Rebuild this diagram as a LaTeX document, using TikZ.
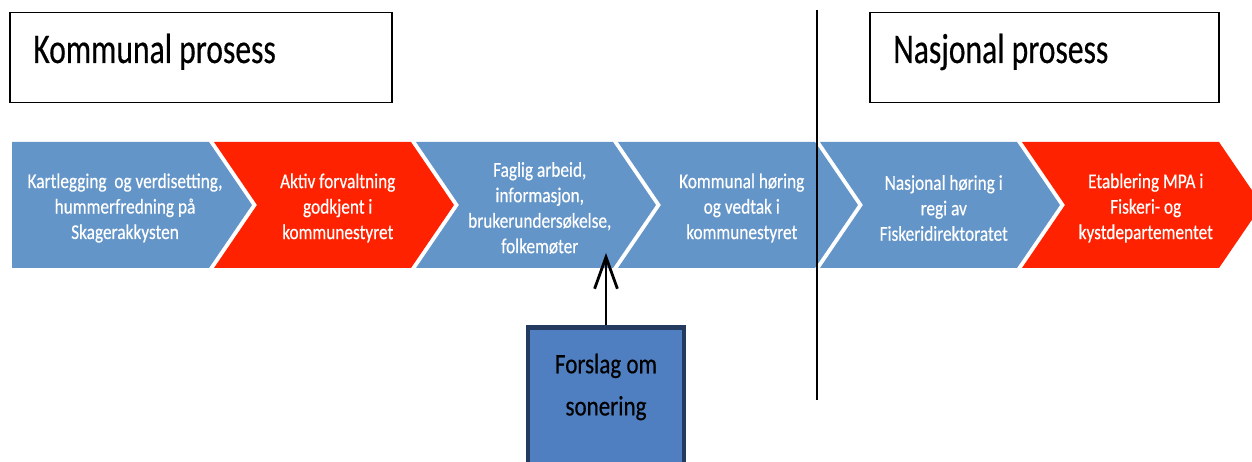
\documentclass[tikz,border=0pt]{standalone}
\usepackage{fontspec}
\setmainfont{Carlito}
\newfontfamily\headfont[FakeStretch=0.75, FakeBold=0.4]{Carlito}
\newfontfamily\stepfont[FakeStretch=0.82, FakeBold=0.4]{Carlito}
\usepackage{xcolor}
\usepackage{tikz}
\usetikzlibrary{arrows.meta}

\definecolor{stepblue}{RGB}{100,149,200}
\definecolor{stepred}{RGB}{255,34,0}
\definecolor{boxblue}{RGB}{79,127,193}
\definecolor{boxrim}{RGB}{36,58,94}

\begin{document}
\begin{tikzpicture}[x=0.02cm, y=-0.02cm, >={Straight Barb[length=18pt,width=13pt]}]
	\tikzstyle{phase} = [draw=black, line width=0.8pt, fill=white]
	\tikzstyle{phasetext} = [anchor=base west, inner sep=0pt, font=\headfont\fontsize{24}{28}\selectfont]
	\tikzstyle{steptext} = [align=center, text=white, font=\stepfont\fontsize{12}{14.5}\selectfont]
	\tikzstyle{proposal} = [draw=boxrim, fill=boxblue, line width=2.8pt, minimum width=3.12cm, minimum height=2.9cm]
	
	\clip (0,0) rectangle (1252,462);
	
	% headings
	\node[phase, minimum width=7.64cm, minimum height=1.8cm] at (201,57.5) (kbox) {};
	\node[phasetext] at (33,63) (ktitle) {Kommunal prosess};
	\node[phase, minimum width=6.98cm, minimum height=1.8cm] at (1044.5,57.5) (nbox) {};
	\node[phasetext] at (893,63) (ntitle) {Nasjonal prosess};
	
	% process steps
	\foreach \x/\n/\col/\txt [count=\i] in {
		12/0/stepblue/{Kartlegging~ og verdisetting,\\hummerfredning på\\Skagerakkysten},
		214/43/stepred/{Aktiv forvaltning\\godkjent i\\kommunestyret},
		416/43/stepblue/{Faglig arbeid,\\informasjon,\\brukerundersøkelse,\\folkemøter},
		618/43/stepblue/{Kommunal høring\\og vedtak i\\kommunestyret},
		820/43/stepblue/{Nasjonal høring i\\regi av\\Fiskeridirektoratet},
		1022/43/stepred/{Etablering MPA i\\Fiskeri- og\\kystdepartementet}}
	{
		\fill[\col] (\x,142) -- ++(197,0) -- ++(43,63) -- ++(-43,63) -- ++(-197,0) -- ++(\n,-63) -- cycle;
		\node[steptext] at (\x+113+\n/4,208) (s\i) {\txt};
	}
	
	% divider
	\draw[line width=1.6pt] (817,10) -- (817,400);
	
	% proposal
	\node[proposal, anchor=north] at (606,325) (forslag) {};
	\node[font=\stepfont\fontsize{16}{24}\selectfont, align=center, text=black] at (606,387) (forslagtext) {Forslag om\\sonering};
	\coordinate (tip) at (606,253);
	
	\draw[->, line width=1.6pt] (forslag.north) -- (tip);
	
\end{tikzpicture}
\end{document}
